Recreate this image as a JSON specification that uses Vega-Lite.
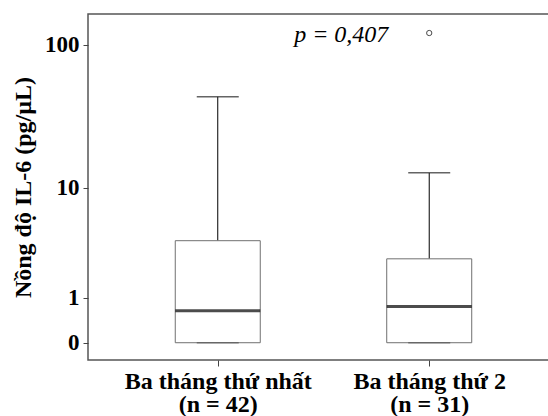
{
  "$schema": "https://vega.github.io/schema/vega-lite/v6.json",
  "autosize": {"type": "none"},
  "padding": {"left": 88, "top": 14, "right": 0, "bottom": 56},
  "width": 461,
  "height": 346,
  "background": "white",
  "datasets": {
    "boxes": [
      {"group": "Ba tháng thứ nhất|(n = 42)", "min": 0, "q1": 0, "median": 0.64, "q3": 3.86, "max": 44.2},
      {"group": "Ba tháng thứ 2|(n = 31)", "min": 0, "q1": 0, "median": 0.75, "q3": 2.67, "max": 12.9}
    ],
    "outliers": [
      {"group": "Ba tháng thứ 2|(n = 31)", "value": 120.4}
    ],
    "notes": [
      {"group": "Ba tháng thứ 2|(n = 31)", "value": 105, "label": "p = 0,407"}
    ]
  },
  "encoding": {
    "x": {
      "field": "group", "type": "nominal",
      "scale": {"type": "point", "domain": ["Ba tháng thứ nhất|(n = 42)", "Ba tháng thứ 2|(n = 31)"], "padding": 0.59, "align": 0.52},
      "axis": {
        "title": null, "labelAngle": 0, "labelExpr": "split(datum.label, '|')",
        "labelFont": "Liberation Serif", "labelFontWeight": "bold", "labelFontSize": 24,
        "labelColor": "black", "labelLineHeight": 23, "labelPadding": 3, "labelLimit": 400,
        "tickSize": 6, "tickColor": "#444", "domain": false, "grid": false
      }
    }
  },
  "layer": [
    {
      "data": {"name": "boxes"},
      "mark": {"type": "rule", "color": "black", "strokeWidth": 1},
      "encoding": {
        "y": {"field": "q3", "type": "quantitative",
          "scale": {"type": "symlog", "constant": 1, "domain": [-0.307, 162], "nice": false, "zero": false},
          "axis": {
            "title": "Nồng độ IL-6 (pg/µL)", "values": [0, 1, 10, 100],
            "titleFont": "Liberation Serif", "titleFontWeight": "bold", "titleFontSize": 24, "titleColor": "black",
            "titlePadding": 9,
            "labelFont": "Liberation Serif", "labelFontWeight": "bold", "labelFontSize": 23, "labelColor": "black",
            "labelPadding": 4, "tickSize": 5, "tickColor": "#444", "domain": false, "grid": false
          }},
        "y2": {"field": "max"}
      }
    },
    {
      "data": {"name": "boxes"},
      "mark": {"type": "bar", "fill": "white", "stroke": "#707070", "strokeWidth": 1, "size": 85},
      "encoding": {
        "y": {"field": "q1", "type": "quantitative"},
        "y2": {"field": "q3"}
      }
    },
    {
      "data": {"name": "boxes"},
      "mark": {"type": "tick", "color": "black", "size": 85, "thickness": 3},
      "encoding": {"y": {"field": "median", "type": "quantitative"}}
    },
    {
      "data": {"name": "boxes"},
      "mark": {"type": "tick", "color": "#222", "size": 42, "thickness": 1.5},
      "encoding": {"y": {"field": "max", "type": "quantitative"}}
    },
    {
      "data": {"name": "boxes"},
      "mark": {"type": "tick", "color": "#555", "size": 42, "thickness": 1.5},
      "encoding": {"y": {"field": "min", "type": "quantitative"}}
    },
    {
      "data": {"name": "outliers"},
      "mark": {"type": "point", "shape": "circle", "filled": false, "size": 28, "stroke": "black", "strokeWidth": 1},
      "encoding": {"y": {"field": "value", "type": "quantitative"}}
    },
    {
      "data": {"name": "notes"},
      "mark": {"type": "text", "font": "Liberation Serif", "fontStyle": "italic", "fontSize": 24, "color": "black", "align": "center", "baseline": "alphabetic", "dx": -88},
      "encoding": {
        "y": {"field": "value", "type": "quantitative"},
        "text": {"field": "label"}
      }
    }
  ],
  "config": {
    "view": {"stroke": "#555", "strokeWidth": 1.5}
  }
}
